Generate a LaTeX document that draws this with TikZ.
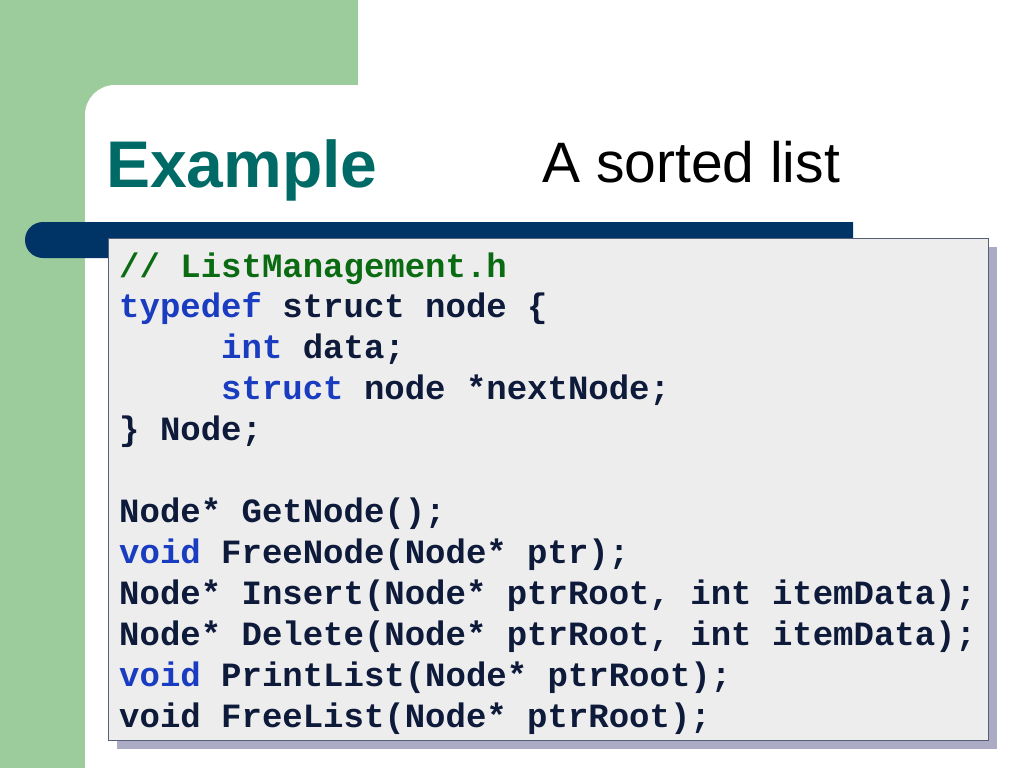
\documentclass[tikz,border=0pt]{standalone}
\usepackage{fontspec}
\setmainfont{Liberation Sans}
\newfontfamily\codefont{Liberation Mono}
\definecolor{sidegreen}{HTML}{9CCC9C}
\definecolor{barblue}{HTML}{003366}
\definecolor{titleteal}{HTML}{006B66}
\definecolor{kwblue}{HTML}{1A3CC0}
\definecolor{cmgreen}{HTML}{0B6B12}
\definecolor{plain}{HTML}{0E1A3A}
\definecolor{boxgray}{HTML}{EDEDED}
\definecolor{shadowc}{HTML}{ABABC6}
\begin{document}
\begin{tikzpicture}[x=1pt,y=-1pt,
  code/.style={anchor=base west,inner sep=0pt,font=\codefont\bfseries\fontsize{34}{34}\selectfont,text=plain},
  kw/.style={text=kwblue}]
\useasboundingbox (0,0) rectangle (1024,768);
\begin{scope}
\clip (0,0) rectangle (1024,768);
\fill[sidegreen] (0,0) rectangle (358,120);
\fill[sidegreen] (0,0) rectangle (85,768);
\fill[white,rounded corners=30] (85,85) rectangle (1100,850);
\end{scope}
\fill[barblue] (853,222) -- (43,222) arc[start angle=270,end angle=90,radius=18] -- (853,258) -- cycle;
\node[anchor=base west,inner sep=0pt,font=\bfseries\fontsize{66}{66}\selectfont,text=titleteal] (title) at (106,187) {Example};
\node[anchor=base west,inner sep=0pt,font=\fontsize{57}{57}\selectfont,text=black] (sub) at (542,182) {A sorted list};
\fill[shadowc] (117,247) rectangle (997,749);
\node[draw=plain!70,line width=1pt,fill=boxgray,minimum width=880,minimum height=502,anchor=north west,inner sep=0pt] (box) at (108,238) {};
\node[code,text=cmgreen] (l1) at (119,277) {// ListManagement.h};
\node[code] (l2) at (119,317) {\textcolor{kwblue}{typedef} struct node \{};
\node[code] (l3) at (119,358) {\phantom{xxxxx}\textcolor{kwblue}{int} data;};
\node[code] (l4) at (119,399) {\phantom{xxxxx}\textcolor{kwblue}{struct} node *nextNode;};
\node[code] (l5) at (119,440) {\} Node;};
\node[code] (l6) at (119,522) {Node* GetNode();};
\node[code] (l7) at (119,563) {\textcolor{kwblue}{void} FreeNode(Node* ptr);};
\node[code] (l8) at (119,604) {Node* Insert(Node* ptrRoot, int itemData);};
\node[code] (l9) at (119,645) {Node* Delete(Node* ptrRoot, int itemData);};
\node[code] (l10) at (119,686) {\textcolor{kwblue}{void} PrintList(Node* ptrRoot);};
\node[code] (l11) at (119,727) {void FreeList(Node* ptrRoot);};
\end{tikzpicture}
\end{document}
